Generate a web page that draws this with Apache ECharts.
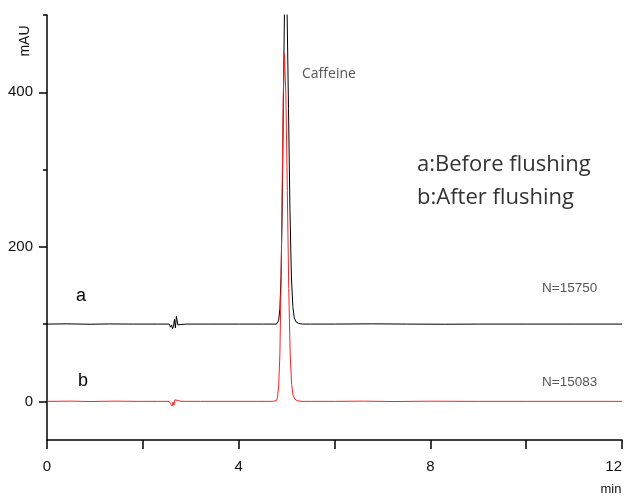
<!DOCTYPE html>
<html>
<head>
<meta charset="utf-8">
<script src="https://cdn.jsdelivr.net/npm/echarts@6/dist/echarts.min.js"></script>
<style>
html,body{margin:0;padding:0;background:#fff;}
#chart{width:628px;height:497px;}
</style>
</head>
<body>
<div id="chart"></div>
<script>
// Chromatogram a: before flushing (baseline offset 100 mAU)
const timeA = [0, 0.4, 0.9, 1.3, 1.8, 2.3, 2.55, 2.58, 2.60, 2.62, 2.64, 2.66, 2.68, 2.70, 2.73, 2.77, 2.9, 3.4, 4.0, 4.5, 4.79,
  4.815, 4.835, 4.86, 4.885, 4.908, 4.932, 4.956, 4.98, 5.01, 5.04, 5.07, 5.10, 5.13, 5.16, 5.195, 5.245, 5.33, 5.5,
  6.0, 6.8, 7.5, 8.3, 9.0, 10.0, 11.0, 12.0];
const valA = [100, 100.3, 99.8, 100.2, 100, 100, 100, 96, 99, 94, 97, 106, 95, 110, 99, 100.5, 100, 100, 100, 100, 100,
  101, 105, 120, 162, 249, 379, 506, 560, 506, 379, 249, 162, 123, 108, 103, 101, 100, 100,
  100, 100.3, 100, 99.8, 100, 100, 100, 100];

// Chromatogram b: after flushing
const timeB = [0, 0.5, 0.9, 1.4, 1.9, 2.3, 2.55, 2.58, 2.61, 2.63, 2.65, 2.67, 2.69, 2.71, 2.74, 2.8, 3.2, 3.8, 4.4, 4.7,
  4.79, 4.81, 4.835, 4.86, 4.883, 4.907, 4.931, 4.955, 4.985, 5.015, 5.045, 5.075, 5.105, 5.135, 5.17, 5.22, 5.3, 5.5,
  6.0, 6.6, 7.2, 8.0, 9.0, 10.0, 11.0, 12.0];
const valB = [0, 0.3, -0.2, 0.3, 0, 0, 0, -3, -6, -1, -5, 2, 4, 0, 1, 0, 0, 0, 0, 0,
  1, 5, 20, 61, 146, 273, 397, 450, 397, 273, 146, 61, 22, 8, 3, 1, 0, 0,
  0, 0.3, -0.2, 0.2, 0, 0, 0, 0];

const xTickValues = [0, 2, 4, 6, 8, 10, 12];
const xLabelValues = [0, 4, 8, 12];
const yTickValues = [0, 200, 400];
const yMinorTickValues = [100, 300, 500];
const yLabelValues = [0, 200, 400];

const seriesA = timeA.map((t, i) => [t, valA[i]]);
const seriesB = timeB.map((t, i) => [t, valB[i]]);

const axisFont = 'Liberation Sans, Arial, sans-serif';
const noteFont = '"Open Sans", "Noto Sans", sans-serif';

const chart = echarts.init(document.getElementById('chart'), null, {renderer: 'canvas'});
chart.setOption({
  animation: false,
  backgroundColor: '#fff',
  grid: {left: 47, right: 6, top: 15, bottom: 57, containLabel: false, outerBoundsMode: 'none'},
  xAxis: {
    type: 'value', min: 0, max: 12,
    axisLine: {show: true, onZero: false, lineStyle: {color: '#000', width: 1.5}},
    axisTick: {show: true, length: 9, customValues: xTickValues, lineStyle: {color: '#000', width: 1.5}},
    axisLabel: {customValues: xLabelValues, margin: 19, fontSize: 15, color: '#111', fontFamily: axisFont,
      alignMaxLabel: 'right'},
    splitLine: {show: false}
  },
  yAxis: [{
    type: 'value', min: -50, max: 500,
    axisLine: {show: true, onZero: false, lineStyle: {color: '#000', width: 1.5}},
    axisTick: {show: true, length: 8, customValues: yTickValues, lineStyle: {color: '#000', width: 1.5}},
    axisLabel: {customValues: yLabelValues, margin: 14, fontSize: 15, color: '#111', fontFamily: axisFont},
    splitLine: {show: false}
  }, {
    type: 'value', min: -50, max: 500, position: 'left',
    axisLine: {show: false},
    axisTick: {show: true, length: 4, customValues: yMinorTickValues, lineStyle: {color: '#000', width: 1.5}},
    axisLabel: {show: false},
    splitLine: {show: false}
  }],
  series: [{
    name: 'a', type: 'line', data: seriesA, showSymbol: false, clip: true,
    lineStyle: {color: '#000', width: 1}, itemStyle: {color: '#000'}
  }, {
    name: 'b', type: 'line', data: seriesB, showSymbol: false, clip: true,
    lineStyle: {color: '#ff2020', width: 1}, itemStyle: {color: '#ff2020'}
  }],
  graphic: [
    {type: 'text', x: 25, y: 41, rotation: Math.PI / 2,
      style: {text: 'mAU', fontSize: 14, fontFamily: axisFont, fill: '#111', align: 'center', verticalAlign: 'middle'}},
    {type: 'text', x: 611, y: 489,
      style: {text: 'min', fontSize: 13, fontFamily: axisFont, fill: '#111', align: 'center', verticalAlign: 'middle'}},
    {type: 'text', x: 81, y: 296,
      style: {text: 'a', fontSize: 18, fontFamily: axisFont, fill: '#000', align: 'center', verticalAlign: 'middle'}},
    {type: 'text', x: 83, y: 381,
      style: {text: 'b', fontSize: 18, fontFamily: axisFont, fill: '#000', align: 'center', verticalAlign: 'middle'}},
    {type: 'text', x: 302, y: 74,
      style: {text: 'Caffeine', fontSize: 14, fontFamily: noteFont, fill: '#555', align: 'left', verticalAlign: 'middle'}},
    {type: 'text', x: 417, y: 165,
      style: {text: 'a:Before flushing', fontSize: 22, fontFamily: noteFont, fill: '#333', align: 'left', verticalAlign: 'middle'}},
    {type: 'text', x: 417, y: 198,
      style: {text: 'b:After flushing', fontSize: 22, fontFamily: noteFont, fill: '#333', align: 'left', verticalAlign: 'middle'}},
    {type: 'text', x: 542, y: 288,
      style: {text: 'N=15750', fontSize: 13.5, fontFamily: axisFont, fill: '#555', align: 'left', verticalAlign: 'middle'}},
    {type: 'text', x: 542, y: 382,
      style: {text: 'N=15083', fontSize: 13.5, fontFamily: axisFont, fill: '#555', align: 'left', verticalAlign: 'middle'}}
  ]
});
</script>
</body>
</html>
